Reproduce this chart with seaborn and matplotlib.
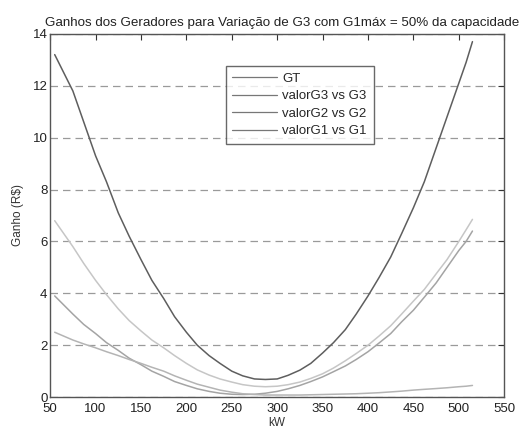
import matplotlib
matplotlib.use("Agg")
import matplotlib.pyplot as plt
import seaborn as sns
import pandas as pd

# Data (kW on x, gain in R$ on y)
kw = [55, 65, 75, 87, 100, 112, 125, 137, 150, 162,
      175, 187, 200, 212, 225, 237, 250, 262, 275, 287,
      300, 312, 325, 337, 350, 362, 375, 387, 400, 412,
      425, 437, 450, 462, 475, 487, 500, 508, 515]
gt = [13.2, 12.5, 11.8, 10.6, 9.3, 8.3, 7.1, 6.2, 5.3, 4.5,
      3.8, 3.1, 2.5, 2.0, 1.6, 1.3, 1.0, 0.82, 0.7, 0.68,
      0.7, 0.84, 1.04, 1.3, 1.7, 2.1, 2.6, 3.2, 3.9, 4.6,
      5.4, 6.3, 7.3, 8.3, 9.6, 10.8, 12.1, 12.9, 13.7]
g3 = [6.8, 6.3, 5.8, 5.15, 4.5, 3.95, 3.4, 2.95, 2.55, 2.2,
      1.9, 1.6, 1.3, 1.05, 0.85, 0.7, 0.58, 0.48, 0.42, 0.4,
      0.42, 0.48, 0.58, 0.72, 0.9, 1.12, 1.4, 1.68, 2.0, 2.35,
      2.75, 3.2, 3.7, 4.15, 4.75, 5.3, 6.0, 6.45, 6.85]
g2 = [3.9, 3.55, 3.2, 2.8, 2.45, 2.1, 1.8, 1.5, 1.25, 1.0,
      0.8, 0.6, 0.45, 0.32, 0.22, 0.15, 0.11, 0.1, 0.11, 0.15,
      0.22, 0.32, 0.45, 0.6, 0.78, 0.98, 1.2, 1.45, 1.75, 2.08,
      2.45, 2.9, 3.35, 3.85, 4.4, 5.0, 5.65, 6.0, 6.4]
g1 = [2.5, 2.35, 2.2, 2.05, 1.9, 1.75, 1.6, 1.45, 1.3, 1.15,
      1.0, 0.82, 0.65, 0.5, 0.38, 0.27, 0.19, 0.13, 0.1, 0.08,
      0.08, 0.08, 0.08, 0.09, 0.1, 0.11, 0.12, 0.13, 0.15, 0.17,
      0.2, 0.23, 0.27, 0.3, 0.33, 0.36, 0.4, 0.42, 0.45]
series_names = ["GT", "valorG3 vs G3", "valorG2 vs G2", "valorG1 vs G1"]
x_ticks = [50, 100, 150, 200, 250, 300, 350, 400, 450, 500, 550]
y_ticks = [0, 2, 4, 6, 8, 10, 12, 14]

frames = []
for name, vals in zip(series_names, [gt, g3, g2, g1]):
    frames.append(pd.DataFrame({"kW": kw, "Ganho": vals, "serie": name}))
df = pd.concat(frames, ignore_index=True)

sns.set_theme(style="white")
plt.rcParams["font.family"] = ["Liberation Sans", "DejaVu Sans"]

palette = {"GT": "#5e5e5e", "valorG3 vs G3": "#c6c6c6",
           "valorG2 vs G2": "#a4a4a4", "valorG1 vs G1": "#b4b4b4"}

fig = plt.figure(figsize=(5.28, 4.34), dpi=100)
ax = fig.add_axes([0.095, 0.085, 0.86, 0.837])

sns.lineplot(data=df, x="kW", y="Ganho", hue="serie", hue_order=series_names,
             palette=palette, linewidth=1.1, sort=False, ax=ax, legend=True)

ax.set_xlim(50, 550)
ax.set_ylim(0, 14)
ax.set_xticks(x_ticks)
ax.set_yticks(y_ticks)
ax.tick_params(direction="in", length=4, width=0.8, top=True, right=True,
               labelsize=9.5, colors="#333333", labelcolor="#222222")
ax.tick_params(axis="x", pad=4)
ax.tick_params(axis="y", pad=2)
for s in ax.spines.values():
    s.set_color("#555555")
    s.set_linewidth(1.0)
ax.yaxis.grid(True, linestyle=(0, (6, 4)), color="#9a9a9a", linewidth=0.9)
ax.xaxis.grid(False)
ax.set_axisbelow(True)

ax.set_xlabel("kW", fontsize=8.5, color="#333333", labelpad=2)
ax.set_ylabel("Ganho (R$)", fontsize=8.5, color="#333333", labelpad=6)
ax.set_title("Ganhos dos Geradores para Variação de G3 com G1máx = 50% da capacidade",
             fontsize=9.6, color="#222222", pad=6, x=0.51)

leg = ax.legend(loc="upper left", bbox_to_anchor=(0.372, 0.93), frameon=True,
                fancybox=False, fontsize=9.5, handlelength=3.4, handletextpad=0.4,
                borderpad=0.5, labelspacing=0.4, title=None)
leg.get_frame().set_edgecolor("#444444")
leg.get_frame().set_linewidth(1.0)
for h in leg.get_lines():
    h.set_color("#777777")
    h.set_linewidth(0.9)

fig.savefig("out.png", dpi=100, facecolor="white")
